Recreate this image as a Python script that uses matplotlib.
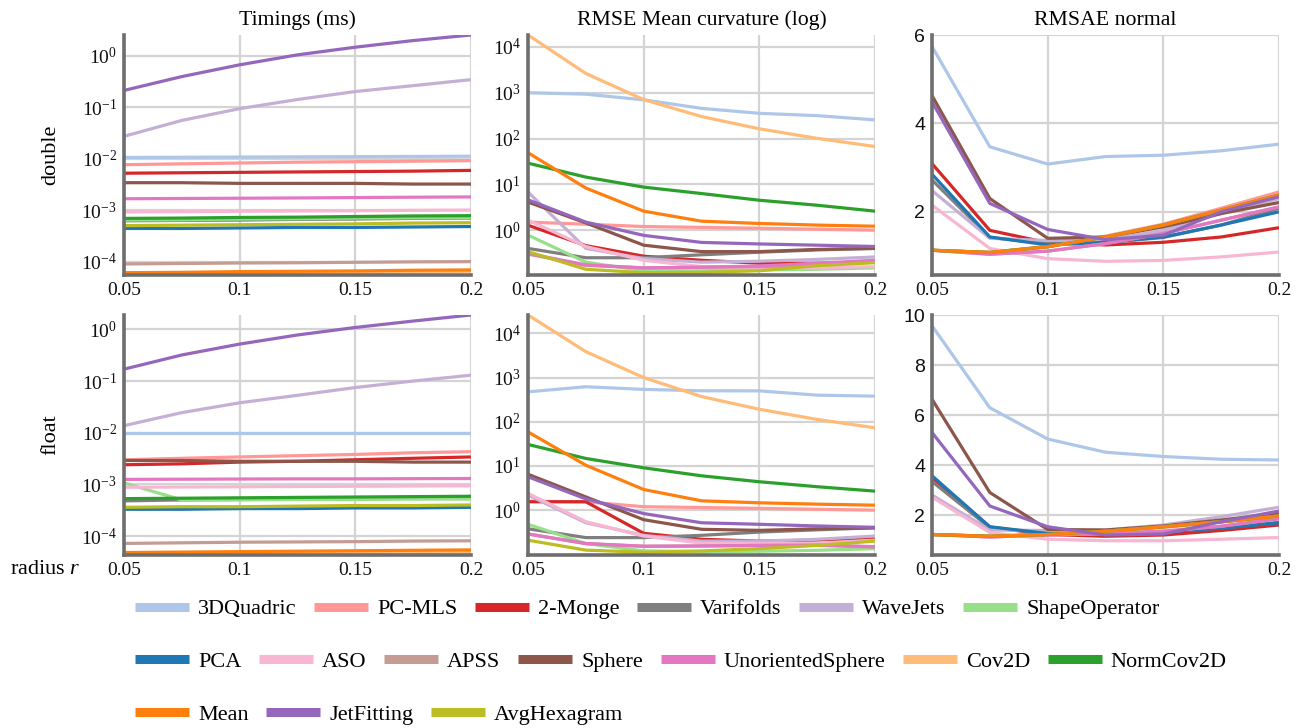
import numpy as np
import matplotlib
matplotlib.use("Agg")
import matplotlib.pyplot as plt
from matplotlib.lines import Line2D
from matplotlib.ticker import FixedLocator, MultipleLocator, NullLocator

plt.rcParams["font.family"] = ["Liberation Serif", "DejaVu Serif"]
plt.rcParams["mathtext.fontset"] = "custom"
plt.rcParams["mathtext.rm"] = "Liberation Serif"
plt.rcParams["mathtext.it"] = "Liberation Serif:italic"
plt.rcParams["font.size"] = 14

# ---- data ----
RADIUS = [0.05, 0.075, 0.1, 0.125, 0.15, 0.175, 0.2]

METHODS = ["3DQuadric", "PC-MLS", "2-Monge", "Varifolds", "WaveJets", "ShapeOperator",
           "PCA", "ASO", "APSS", "Sphere", "UnorientedSphere", "Cov2D", "NormCov2D",
           "Mean", "JetFitting", "AvgHexagram"]

COLORS = ["#aec7e8", "#ff9896", "#d62728", "#7f7f7f", "#c5b0d5", "#98df8a",
          "#1f77b4", "#f7b6d2", "#c49c94", "#8c564b", "#e377c2", "#ffbb78", "#2ca02c",
          "#ff7f0e", "#9467bd", "#bcbd22"]

NAN = [np.nan] * 7

# timings (ms), one row per method, in METHODS order
TIME_DOUBLE = [
    [0.0105, 0.0106, 0.0107, 0.0108, 0.0109, 0.011, 0.0111],
    [0.0076, 0.0079, 0.0082, 0.0085, 0.0087, 0.0089, 0.0091],
    [0.0052, 0.0053, 0.0054, 0.0055, 0.0056, 0.0057, 0.0059],
    [0.00062, 0.00063, 0.00064, 0.00066, 0.00067, 0.00069, 0.0007],
    [0.027, 0.055, 0.093, 0.14, 0.2, 0.26, 0.34],
    [0.00064, 0.00065, 0.00067, 0.00068, 0.0007, 0.00071, 0.00072],
    [0.00044, 0.00044, 0.00045, 0.00046, 0.00046, 0.00047, 0.00048],
    [0.00092, 0.00093, 0.00095, 0.00096, 0.00097, 0.00099, 0.001],
    [9.0e-5, 9.2e-5, 9.4e-5, 9.5e-5, 9.7e-5, 9.9e-5, 1.0e-4],
    [0.0034, 0.0034, 0.0033, 0.0033, 0.0033, 0.0032, 0.0032],
    [0.00166, 0.00168, 0.0017, 0.00172, 0.00175, 0.00178, 0.0018],
    [5.5e-5, 5.6e-5, 5.8e-5, 5.9e-5, 6.1e-5, 6.3e-5, 6.5e-5],
    [0.00069, 0.0007, 0.00072, 0.00073, 0.00075, 0.00077, 0.00078],
    [6.1e-5, 6.2e-5, 6.4e-5, 6.5e-5, 6.6e-5, 6.8e-5, 6.9e-5],
    [0.21, 0.39, 0.66, 1.03, 1.45, 1.95, 2.5],
    [0.0005, 0.00051, 0.00052, 0.00053, 0.00054, 0.00056, 0.00057],
]

TIME_FLOAT = [
    [0.01, 0.01, 0.01, 0.01, 0.01, 0.01, 0.01],
    [0.003, 0.0032, 0.0034, 0.0036, 0.0038, 0.0041, 0.0043],
    [0.0024, 0.0025, 0.0027, 0.0028, 0.003, 0.0032, 0.0034],
    [0.00048, 0.0005, 0.00051, 0.00052, 0.00053, 0.00054, 0.00055],
    [0.0137, 0.0245, 0.038, 0.053, 0.075, 0.1, 0.13],
    [0.00107, 0.0005, 0.0005, 0.00051, 0.00051, 0.00052, 0.00052],
    [0.00033, 0.00033, 0.00034, 0.00034, 0.00035, 0.00035, 0.00036],
    [0.00088, 0.00089, 0.0009, 0.00091, 0.00092, 0.00093, 0.00094],
    [7.2e-5, 7.4e-5, 7.6e-5, 7.7e-5, 7.8e-5, 8.0e-5, 8.1e-5],
    [0.0029, 0.0029, 0.0028, 0.0028, 0.0028, 0.0027, 0.0027],
    [0.00125, 0.00126, 0.00127, 0.00128, 0.00128, 0.00129, 0.0013],
    [4.3e-5, 4.4e-5, 4.5e-5, 4.6e-5, 4.7e-5, 4.8e-5, 4.9e-5],
    [0.00053, 0.00054, 0.00055, 0.00056, 0.00057, 0.00058, 0.00059],
    [4.8e-5, 4.9e-5, 5.0e-5, 5.1e-5, 5.2e-5, 5.3e-5, 5.4e-5],
    [0.17, 0.32, 0.52, 0.78, 1.09, 1.45, 1.9],
    [0.00036, 0.00037, 0.00037, 0.00038, 0.00039, 0.00039, 0.0004],
]

# RMSE mean curvature
CURV_DOUBLE = [
    [1000, 930, 700, 456, 355, 316, 255],
    [1.5, 1.35, 1.2, 1.15, 1.1, 1.05, 1.0],
    [1.28, 0.46, 0.27, 0.22, 0.19, 0.19, 0.2],
    [0.4, 0.25, 0.25, 0.29, 0.33, 0.37, 0.4],
    [6.8, 0.4, 0.24, 0.2, 0.21, 0.23, 0.26],
    [0.78, 0.2, 0.13, 0.13, 0.135, 0.14, 0.15],
    NAN,
    [1.65, 0.44, 0.22, 0.16, 0.15, 0.15, 0.16],
    [0.3, 0.17, 0.15, 0.155, 0.16, 0.17, 0.21],
    [4.1, 1.44, 0.47, 0.34, 0.34, 0.38, 0.4],
    [0.31, 0.175, 0.15, 0.155, 0.165, 0.19, 0.22],
    [18200, 2630, 708, 302, 163, 101, 67],
    [29, 14.4, 8.7, 6.3, 4.5, 3.5, 2.6],
    [49, 8.3, 2.6, 1.57, 1.4, 1.29, 1.22],
    [4.6, 1.5, 0.77, 0.54, 0.5, 0.47, 0.44],
    [0.34, 0.14, 0.118, 0.12, 0.13, 0.168, 0.195],
]

CURV_FLOAT = [
    [475, 620, 540, 502, 500, 400, 380],
    [1.6, 1.55, 1.2, 1.15, 1.1, 1.05, 1.0],
    [1.55, 1.55, 0.3, 0.22, 0.2, 0.21, 0.23],
    [0.38, 0.24, 0.24, 0.27, 0.32, 0.36, 0.4],
    [2.2, 0.52, 0.27, 0.2, 0.2, 0.22, 0.26],
    [0.48, 0.176, 0.12, 0.115, 0.118, 0.124, 0.135],
    NAN,
    [2.4, 0.55, 0.26, 0.18, 0.176, 0.18, 0.21],
    [0.29, 0.176, 0.153, 0.155, 0.16, 0.16, 0.148],
    [6.5, 2.0, 0.61, 0.37, 0.35, 0.38, 0.4],
    [0.29, 0.176, 0.153, 0.155, 0.16, 0.162, 0.15],
    [26000, 3850, 1000, 372, 192, 113, 73],
    [30.7, 14.8, 9.1, 6.0, 4.4, 3.4, 2.7],
    [59, 10.4, 2.94, 1.63, 1.47, 1.37, 1.3],
    [5.7, 1.8, 0.84, 0.52, 0.48, 0.44, 0.41],
    [0.21, 0.125, 0.112, 0.12, 0.135, 0.16, 0.2],
]

# RMSAE normal
NORM_DOUBLE = [
    [5.74, 3.47, 3.08, 3.25, 3.28, 3.38, 3.53],
    [1.13, 1.08, 1.22, 1.45, 1.72, 2.08, 2.45],
    [3.09, 1.58, 1.30, 1.25, 1.31, 1.43, 1.64],
    [2.72, 1.42, 1.28, 1.30, 1.42, 1.70, 2.08],
    [2.48, 1.40, 1.35, 1.36, 1.58, 1.96, 2.30],
    [1.13, 1.08, 1.21, 1.43, 1.70, 2.04, 2.38],
    [2.85, 1.43, 1.25, 1.31, 1.43, 1.70, 2.00],
    [2.15, 1.17, 0.94, 0.88, 0.90, 0.98, 1.09],
    [1.13, 1.04, 1.11, 1.28, 1.51, 1.81, 2.11],
    [4.63, 2.30, 1.40, 1.43, 1.66, 1.96, 2.21],
    [1.13, 1.04, 1.11, 1.28, 1.51, 1.81, 2.11],
    [1.13, 1.08, 1.21, 1.43, 1.70, 2.04, 2.38],
    [1.13, 1.08, 1.21, 1.43, 1.70, 2.04, 2.38],
    [1.13, 1.08, 1.21, 1.43, 1.70, 2.04, 2.38],
    [4.49, 2.19, 1.60, 1.37, 1.47, 2.00, 2.34],
    NAN,
]

NORM_FLOAT = [
    [9.57, 6.29, 5.04, 4.51, 4.34, 4.23, 4.20],
    [1.22, 1.15, 1.22, 1.35, 1.50, 1.72, 1.92],
    [3.50, 1.52, 1.22, 1.15, 1.20, 1.38, 1.60],
    [3.34, 1.49, 1.26, 1.24, 1.33, 1.48, 1.70],
    [2.80, 1.40, 1.38, 1.40, 1.60, 1.93, 2.31],
    [1.22, 1.15, 1.22, 1.35, 1.53, 1.73, 1.96],
    [3.57, 1.53, 1.26, 1.24, 1.33, 1.47, 1.69],
    [2.71, 1.30, 1.03, 0.97, 0.97, 1.03, 1.10],
    [1.22, 1.12, 1.20, 1.25, 1.35, 1.55, 1.85],
    [6.63, 2.90, 1.42, 1.40, 1.56, 1.80, 2.07],
    [1.22, 1.12, 1.20, 1.25, 1.35, 1.55, 1.85],
    [1.22, 1.15, 1.22, 1.35, 1.53, 1.73, 1.96],
    [1.22, 1.15, 1.22, 1.35, 1.53, 1.73, 1.96],
    [1.22, 1.15, 1.22, 1.35, 1.53, 1.73, 1.96],
    [5.30, 2.36, 1.53, 1.20, 1.24, 1.73, 2.16],
    NAN,
]

COL_TITLES = ["Timings (ms)", "RMSE Mean curvature (log)", "RMSAE normal"]
ROW_LABELS = ["double", "float"]
X_TICKS = [0.05, 0.1, 0.15, 0.2]
X_TICKLABELS = ["0.05", "0.1", "0.15", "0.2"]
TIME_TICKS = [1e-4, 1e-3, 1e-2, 1e-1, 1e0]
CURV_TICKS = [1e0, 1e1, 1e2, 1e3, 1e4]
LEGEND_ROWS = [6, 7, 3]

GRID = "#d4d4d4"
SPINE = "#6e6e6e"

fig = plt.figure(figsize=(13.02, 7.28), dpi=100)
W, H = 1302, 728


def px_axes(left, top, right, bottom):
    return fig.add_axes([left / W, 1 - bottom / H, (right - left) / W, (bottom - top) / H])


lefts = [124, 528, 932]
rows = [(35, 275), (315, 555)]
panels = [[TIME_DOUBLE, CURV_DOUBLE, NORM_DOUBLE], [TIME_FLOAT, CURV_FLOAT, NORM_FLOAT]]
ylims = [[None, (0.105, 18200), (0.57, 6)], [None, (0.097, 26000), (0.4, 10)]]

for r, (top, bottom) in enumerate(rows):
    for c, left in enumerate(lefts):
        ax = px_axes(left, top, left + 347, bottom)
        data = panels[r][c]
        for name, color, vals in zip(METHODS, COLORS, data):
            ax.plot(RADIUS, vals, color=color, lw=2.3, solid_capstyle="butt", label=name)
        if c < 2:
            ax.set_yscale("log")
            ax.yaxis.set_major_locator(FixedLocator(TIME_TICKS if c == 0 else CURV_TICKS))
            ax.yaxis.set_minor_locator(NullLocator())
        else:
            ax.yaxis.set_major_locator(MultipleLocator(2))
        if ylims[r][c] is None:
            arr = np.array(data, dtype=float)
            ax.set_ylim(np.nanmin(arr), np.nanmax(arr))
        else:
            ax.set_ylim(*ylims[r][c])
        ax.set_xlim(0.05, 0.2)
        ax.set_xticks(X_TICKS)
        ax.set_xticklabels(X_TICKLABELS)
        ax.grid(True, color=GRID, lw=1.6)
        ax.set_axisbelow(True)
        for s in ["top", "right"]:
            ax.spines[s].set_visible(False)
        for s in ["left", "bottom"]:
            ax.spines[s].set_color(SPINE)
            ax.spines[s].set_linewidth(2.6)
            ax.spines[s].set_zorder(5)
        ax.tick_params(length=0, pad=5, labelsize=14, colors="#111111")
        if c == 2:
            for lab in ax.get_yticklabels():
                lab.set_family("Liberation Sans")
        if r == 0:
            ax.set_title(COL_TITLES[c], fontsize=15.7, pad=7)
        if c == 0:
            ax.set_ylabel(ROW_LABELS[r], fontsize=16, labelpad=15)

fig.text(10 / W, 1 - 570 / H, "radius $r$", fontsize=16, ha="left", va="center")

# legend: three rows, flowing left to right
handles = [Line2D([], [], color=col, lw=6.5, solid_capstyle="butt") for col in COLORS]
row_y = [609, 662, 715]
start = 0
for n, y in zip(LEGEND_ROWS, row_y):
    fig.legend(handles[start:start + n], METHODS[start:start + n], ncol=n,
               loc="center left", bbox_to_anchor=(135 / W, 1 - y / H),
               frameon=False, borderpad=0, borderaxespad=0, handlelength=2.43,
               handletextpad=0.4, columnspacing=0.8, fontsize=16)
    start += n

fig.savefig("out.png", dpi=100)
